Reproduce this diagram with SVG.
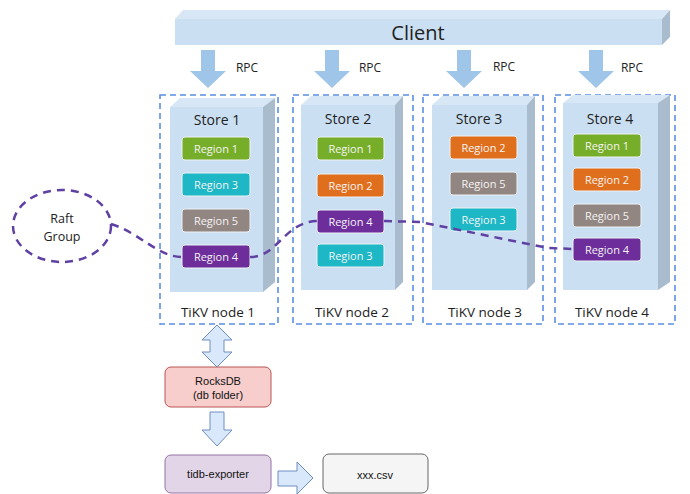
<svg xmlns="http://www.w3.org/2000/svg" width="690" height="494" viewBox="0 0 690 494">
<defs>
<style>
.t{font-family:"Open Sans","Liberation Sans",sans-serif;fill:#222;text-anchor:middle}
.h{font-family:"Liberation Sans",Arial,sans-serif;fill:#111;text-anchor:middle;font-size:11px}
.rt{font-family:"Open Sans","Liberation Sans",sans-serif;fill:#f4f4f4;text-anchor:middle;font-size:11px}
.node{fill:#fff;stroke:#5a8fe3;stroke-width:1.6;stroke-dasharray:6 4}
.front{fill:#cadff2}
.top{fill:#d8e7f5}
.side{fill:#a9bccd}
.rpc{fill:#9fc5e8}
.reg{stroke:#eef3f7;stroke-width:1}
.g{fill:#77ae29}.c{fill:#1db7c6}.gr{fill:#928682}.p{fill:#6d2d9a}.o{fill:#e06f1d}
.raft{fill:none;stroke:#5f40a3;stroke-width:2.5;stroke-dasharray:8 6}
.blue{fill:#dae8fc;stroke:#6c8ebf;stroke-width:1}
</style>
</defs>

<g id="client">
<polygon class="top" points="175,19 183,10 670,10 662,19"/>
<polygon class="side" points="662,19 670,10 670,37 662,45"/>
<rect class="front" x="175" y="19" width="487" height="26"/>
<text class="t" x="418" y="40" font-size="20">Client</text>
</g>

<g id="rpc-arrows">
<polygon class="rpc" points="201,50 215,50 215,71 226,71 208,88 190,71 201,71"/>
<text class="t" x="247" y="72" font-size="12">RPC</text>
<polygon class="rpc" points="325,50 339,50 339,71 350,71 332,88 314,71 325,71"/>
<text class="t" x="370" y="72" font-size="12">RPC</text>
<polygon class="rpc" points="457,50 471,50 471,71 482,71 464,88 446,71 457,71"/>
<text class="t" x="504" y="71" font-size="12">RPC</text>
<polygon class="rpc" points="589,50 603,50 603,71 614,71 596,88 578,71 589,71"/>
<text class="t" x="632" y="72" font-size="12">RPC</text>
</g>

<g id="tikv1">
<rect class="node" x="160" y="95" width="118" height="229"/>
<polygon class="top" points="170,107 180,98 275,98 263,107"/>
<polygon class="side" points="263,107 275,98 275,282 263,292"/>
<rect class="front" x="170" y="107" width="93" height="185"/>
<text class="t" x="217" y="125" font-size="14">Store 1</text>
<rect class="reg g" x="182" y="137" width="68" height="23" rx="3"/><text class="rt" x="216" y="152.5">Region 1</text>
<rect class="reg c" x="182" y="173" width="68" height="23" rx="3"/><text class="rt" x="216" y="188.5">Region 3</text>
<rect class="reg gr" x="182" y="209" width="68" height="23" rx="3"/><text class="rt" x="216" y="224.5">Region 5</text>
<rect class="reg p" x="182" y="245" width="68" height="23" rx="3"/><text class="rt" x="216" y="260.5">Region 4</text>
<text class="t" x="218" y="317" font-size="13.5">TiKV node 1</text>
</g>

<g id="tikv2">
<rect class="node" x="293" y="95" width="120" height="229"/>
<polygon class="top" points="301,105 311,96 403,96 395,105"/>
<polygon class="side" points="395,105 403,96 403,282 395,290"/>
<rect class="front" x="301" y="105" width="94" height="185"/>
<text class="t" x="348" y="124" font-size="14">Store 2</text>
<rect class="reg g" x="317" y="137" width="67" height="23" rx="3"/><text class="rt" x="350.5" y="152.5">Region 1</text>
<rect class="reg o" x="317" y="174" width="67" height="23" rx="3"/><text class="rt" x="350.5" y="189.5">Region 2</text>
<rect class="reg p" x="317" y="210" width="67" height="23" rx="3"/><text class="rt" x="350.5" y="225.5">Region 4</text>
<rect class="reg c" x="317" y="244" width="67" height="23" rx="3"/><text class="rt" x="350.5" y="259.5">Region 3</text>
<text class="t" x="352" y="317" font-size="13.5">TiKV node 2</text>
</g>

<g id="tikv3">
<rect class="node" x="423" y="95" width="120" height="229"/>
<polygon class="top" points="432,105 442,96 535,96 527,105"/>
<polygon class="side" points="527,105 535,96 535,282 527,290"/>
<rect class="front" x="432" y="105" width="95" height="185"/>
<text class="t" x="479" y="124" font-size="14">Store 3</text>
<rect class="reg o" x="450" y="136" width="67" height="23" rx="3"/><text class="rt" x="483.5" y="151.5">Region 2</text>
<rect class="reg gr" x="450" y="172" width="67" height="23" rx="3"/><text class="rt" x="483.5" y="187.5">Region 5</text>
<rect class="reg c" x="450" y="208" width="67" height="23" rx="3"/><text class="rt" x="483.5" y="223.5">Region 3</text>
<text class="t" x="485" y="317" font-size="13.5">TiKV node 3</text>
</g>

<g id="tikv4">
<rect class="node" x="555" y="95" width="120" height="229"/>
<polygon class="top" points="563,103 573,95 670,95 658,103"/>
<polygon class="side" points="658,103 670,95 670,282 658,290"/>
<rect class="front" x="563" y="103" width="95" height="187"/>
<text class="t" x="610" y="124" font-size="14">Store 4</text>
<rect class="reg g" x="573" y="134" width="68" height="23" rx="3"/><text class="rt" x="607" y="149.5">Region 1</text>
<rect class="reg o" x="573" y="168" width="68" height="23" rx="3"/><text class="rt" x="607" y="183.5">Region 2</text>
<rect class="reg gr" x="573" y="204" width="68" height="23" rx="3"/><text class="rt" x="607" y="219.5">Region 5</text>
<rect class="reg p" x="573" y="238" width="68" height="23" rx="3"/><text class="rt" x="607" y="253.5">Region 4</text>
<text class="t" x="612" y="317" font-size="13.5">TiKV node 4</text>
</g>

<g id="raft-group">
<ellipse class="raft" cx="62" cy="226" rx="49" ry="36"/>
<text class="t" x="62" y="223" font-size="12.5">Raft</text>
<text class="t" x="62" y="241" font-size="12.5">Group</text>
</g>

<g id="rocksdb">
<rect x="165" y="367" width="106" height="40" rx="6" fill="#f8cecc" stroke="#b85450"/>
<text class="h" x="218" y="385">RocksDB</text>
<text class="h" x="218" y="399">(db folder)</text>
</g>

<g id="tidb-exporter">
<rect x="165" y="455" width="106" height="38" rx="6" fill="#e1d5e7" stroke="#9673a6"/>
<text class="h" x="218" y="478">tidb-exporter</text>
</g>

<g id="xxx-csv">
<rect x="323" y="454" width="105" height="39" rx="6" fill="#f5f5f5" stroke="#666666"/>
<text class="h" x="375" y="479" font-size="10">xxx.csv</text>
</g>

<g id="connectors">
<path class="raft" d="M111,224 C140,233 158,257 182,257"/>
<path class="raft" d="M250,257 C278,257 284,222 317,221"/>
<path class="raft" d="M384,221 L420,222 L548,248 L573,249"/>
<polygon class="blue" points="217,325 232,340 224,340 224,352 232,352 217,367 202,352 210,352 210,340 202,340"/>
<polygon class="blue" points="210,412 224,412 224,430 232,430 217,446 202,430 210,430"/>
<polygon class="blue" points="278,471 297,471 297,462 313,478 297,494 297,486 278,486"/>
</g>
</svg>
